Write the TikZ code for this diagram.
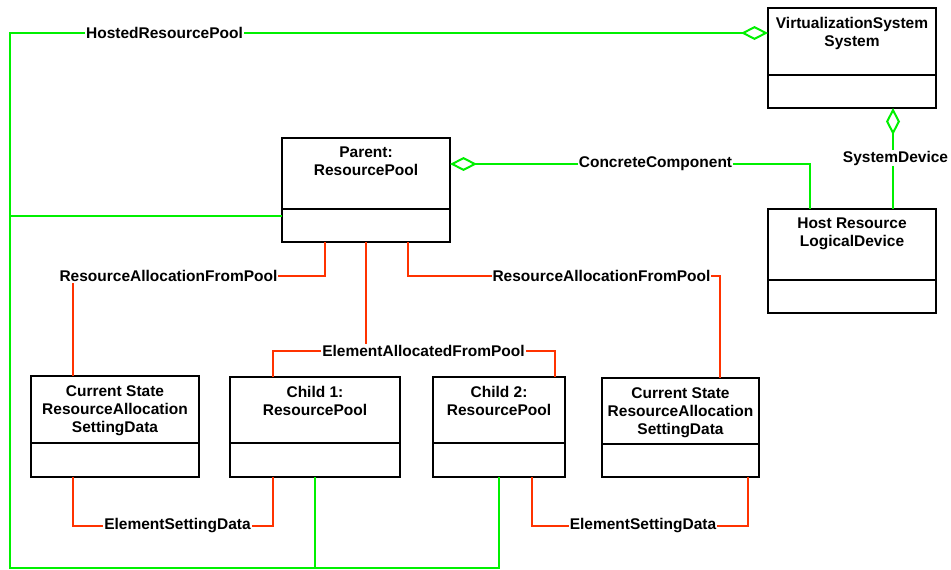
\documentclass[tikz,border=0pt]{standalone}
\usepackage{fontspec}
\setmainfont{Liberation Sans}
\usetikzlibrary{positioning,arrows.meta}
\definecolor{assocgreen}{RGB}{0,240,0}
\definecolor{assocred}{RGB}{255,51,0}
\tikzset{
umlbox/.style={draw,line width=2pt,inner sep=0pt,outer sep=0pt},
umltext/.style={align=center,inner sep=0pt,font=\fontsize{15.5}{18}\selectfont\bfseries},
linklabel/.style={fill=white,inner sep=1pt,font=\fontsize{15.5}{18}\selectfont\bfseries},
greenline/.style={draw=assocgreen,line width=2pt},
redline/.style={draw=assocred,line width=2pt},
agg/.style={{Diamond[open,length=27pt,width=14pt]}-}
}
\begin{document}
\begin{tikzpicture}[x=1pt,y=-1pt]
\useasboundingbox (0,0) rectangle (951,570);
\def\umlclass#1#2#3#4#5#6{
\node[umlbox,minimum width=#3pt,minimum height=#4pt] (#1) at (#2) {};
\node[umltext,below=9pt of #1.north] (#1-name) {#6};
\draw[line width=2pt] ([yshift=#5pt]#1.south west) -- ([yshift=#5pt]#1.south east);
}
\umlclass{vs}{852,58}{168}{100}{33}{VirtualizationSystem\\System}
\umlclass{host}{852,261}{168}{104}{33}{Host Resource\\LogicalDevice}
\umlclass{parent}{366,190}{168}{104}{33}{Parent:\\ResourcePool}
\umlclass{rasdl}{115,426.5}{168}{101}{34}{Current State\\ResourceAllocation\\SettingData}
\umlclass{child1}{315,427}{170}{100}{34}{Child 1:\\ResourcePool}
\umlclass{child2}{499,427}{132}{100}{34}{Child 2:\\ResourcePool}
\umlclass{rasdr}{680.5,427.5}{157}{99}{33}{Current State\\ResourceAllocation\\SettingData}
\coordinate (hptop) at (10,33);
\coordinate (hpbot) at (10,568);
\draw[greenline,agg] ([yshift=25pt]vs.west) -- (hptop) -- (hpbot) -| (child2.south);
\draw[greenline] ([yshift=-26pt]parent.west) -| (hptop);
\draw[greenline] (child1.south) -- (child1.south |- hpbot);
\draw[greenline,agg] ([yshift=26pt]parent.east) -| ([xshift=-42pt]host.north);
\draw[greenline,agg] ([xshift=41pt]vs.south) -- ([xshift=41pt]host.north);
\draw[redline] ([xshift=-41pt]parent.south) -- ++(0,34) -| ([xshift=-42pt]rasdl.north);
\draw[redline] ([xshift=42pt]parent.south) -- ++(0,34) -| ([xshift=39.5pt]rasdr.north);
\draw[redline] (parent.south) -- ++(0,109);
\draw[redline] ([xshift=-42pt]child1.north) -- ++(0,-26) -| ([xshift=56pt]child2.north);
\draw[redline] ([xshift=-42pt]rasdl.south) -- ++(0,49) -| ([xshift=-42pt]child1.south);
\draw[redline] ([xshift=33pt]child2.south) -- ++(0,49) -| ([xshift=67.5pt]rasdr.south);
\node[linklabel] (hostedlbl) at (164.5,33) {HostedResourcePool};
\node[linklabel] (concretelbl) at (655.5,164) {ConcreteComponent};
\node[linklabel] (sysdevlbl) at (895.5,158) {SystemDevice};
\node[linklabel] (rafpleft) at (168.5,276) {ResourceAllocationFromPool};
\node[linklabel] (rafpright) at (601.5,276) {ResourceAllocationFromPool};
\node[linklabel] (eafplbl) at (423.5,351) {ElementAllocatedFromPool};
\node[linklabel] (esdleft) at (177.5,526) {ElementSettingData};
\node[linklabel] (esdright) at (643,526) {ElementSettingData};
\end{tikzpicture}
\end{document}
